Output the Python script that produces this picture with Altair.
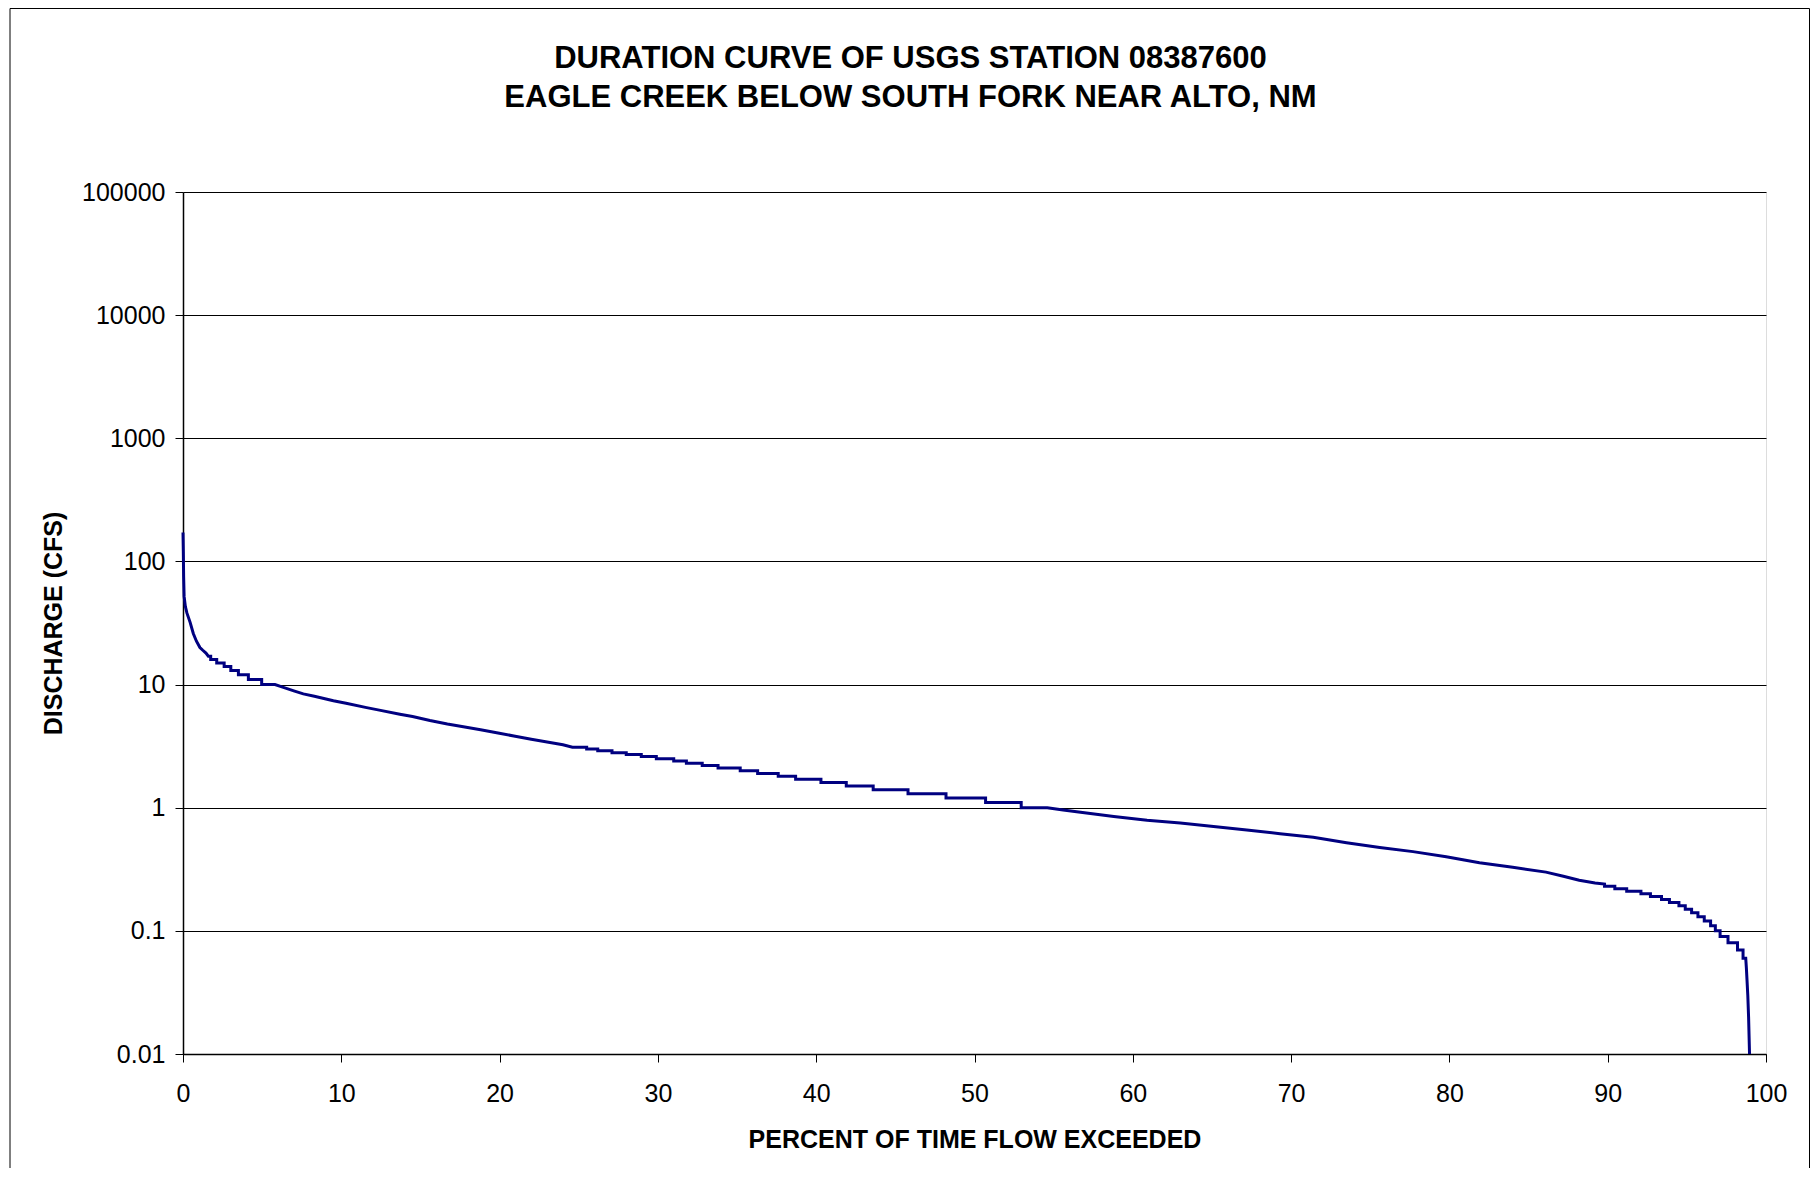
import altair as alt
import pandas as pd

# ---- values ----
# percent of time flow exceeded (x) and discharge in cfs (y), in drawing order
pct = [
    0.00, 0.02, 0.04, 0.07, 0.15, 0.25, 0.45, 0.65, 0.85, 1.07, 1.25, 1.45, 1.60, 1.75,
    1.75, 2.13, 2.13, 2.60, 2.60, 3.02, 3.02, 3.50, 3.50, 4.13, 4.13, 4.97, 4.97, 5.81,
    6.34, 7.00, 7.60, 8.30, 9.50, 10.3, 11.6, 12.4, 13.7, 14.5, 15.6, 16.7, 17.8, 18.8,
    19.9, 20.9, 22.0, 23.0, 24.0,
    24.6, 25.5, 25.5, 26.2, 26.2, 27.1, 27.1, 28.0, 28.0, 28.95, 28.95, 29.9, 29.9, 31.0,
    31.0, 31.8, 31.8, 32.8, 32.8, 33.8, 33.8, 35.2, 35.2, 36.3, 36.3, 37.6, 37.6, 38.7,
    38.7, 40.3, 40.3, 41.9, 41.9, 43.6, 43.6, 45.8, 45.8, 48.2, 48.2, 50.7, 50.7, 52.95,
    52.95, 54.6,
    55.6, 56.7, 58.8, 60.9, 63.0, 65.1, 67.2, 69.3, 71.4, 73.5, 75.6, 77.7, 79.8, 81.9,
    84.0, 86.1, 87.2, 88.2, 89.2, 89.8,
    89.8, 90.45, 90.45, 91.2, 91.2, 92.1, 92.1, 92.7, 92.7, 93.4, 93.4, 93.9, 93.9, 94.5,
    94.5, 94.9, 94.9, 95.3, 95.3, 95.7, 95.7, 96.1, 96.1, 96.5, 96.5, 96.8, 96.8, 97.1,
    97.1, 97.6, 97.6, 98.2, 98.2, 98.55, 98.55, 98.72,
    98.76, 98.80, 98.85, 98.90, 98.96,
]
cfs = [
    172, 120, 75, 52, 43, 38, 32, 26, 22.5, 20, 19, 18, 17, 17,
    16, 16, 15, 15, 14, 14, 13, 13, 12, 12, 11, 11, 10, 10,
    9.5, 8.9, 8.4, 8.05, 7.4, 7.05, 6.5, 6.2, 5.75, 5.5, 5.1, 4.78, 4.52, 4.3,
    4.05, 3.82, 3.6, 3.42, 3.25,
    3.1, 3.1, 3.0, 3.0, 2.9, 2.9, 2.8, 2.8, 2.7, 2.7, 2.6, 2.6, 2.5, 2.5,
    2.4, 2.4, 2.3, 2.3, 2.2, 2.2, 2.1, 2.1, 2.0, 2.0, 1.9, 1.9, 1.8, 1.8,
    1.7, 1.7, 1.6, 1.6, 1.5, 1.5, 1.4, 1.4, 1.3, 1.3, 1.2, 1.2, 1.1, 1.1,
    1.0, 1.0,
    0.96, 0.92, 0.85, 0.79, 0.75, 0.705, 0.66, 0.615, 0.575, 0.52, 0.475, 0.44, 0.40, 0.358,
    0.328, 0.30, 0.278, 0.258, 0.245, 0.24,
    0.23, 0.23, 0.22, 0.22, 0.21, 0.21, 0.20, 0.20, 0.19, 0.19, 0.18, 0.18, 0.17, 0.17,
    0.16, 0.16, 0.15, 0.15, 0.14, 0.14, 0.13, 0.13, 0.12, 0.12, 0.11, 0.11, 0.10, 0.10,
    0.09, 0.09, 0.08, 0.08, 0.07, 0.07, 0.06, 0.06,
    0.05, 0.04, 0.03, 0.02, 0.01,
]

x_ticks = [0, 10, 20, 30, 40, 50, 60, 70, 80, 90, 100]
y_ticks = [0.01, 0.1, 1, 10, 100, 1000, 10000, 100000]
title_lines = [
    "DURATION CURVE OF USGS STATION 08387600",
    "EAGLE CREEK BELOW SOUTH FORK NEAR ALTO, NM",
]
x_title = "PERCENT OF TIME FLOW EXCEEDED"
y_title = "DISCHARGE (CFS)"

FONT = "Liberation Sans, Arial, Helvetica, sans-serif"
W, H = 1583, 862

df = pd.DataFrame({"pct": pct, "cfs": cfs, "order": list(range(len(pct)))})

line = alt.Chart(df).mark_line(color="#000080", strokeWidth=3).encode(
    x=alt.X(
        "pct:Q",
        scale=alt.Scale(domain=[0, 100], nice=False, zero=False),
        axis=alt.Axis(
            values=x_ticks, title=x_title, grid=False,
            tickSize=8, tickColor="#000", tickWidth=1,
            domainColor="#000", domainWidth=1.5,
            labelFont=FONT, labelFontSize=25, labelColor="#000",
            labelPadding=19, labelFlush=False, labelOverlap=False,
            titleFont=FONT, titleFontSize=25, titleFontWeight="bold", titleColor="#000",
            titleX=W / 2, titleY=85, titleAlign="center", titleBaseline="middle",
        ),
    ),
    y=alt.Y(
        "cfs:Q",
        scale=alt.Scale(type="log", domain=[0.01, 100000], nice=False),
        axis=alt.Axis(
            values=y_ticks, format="~g", title=y_title, grid=True,
            gridColor="#000", gridWidth=1,
            tickSize=8, tickColor="#000", tickWidth=1,
            domainColor="#000", domainWidth=1.5,
            labelFont=FONT, labelFontSize=25, labelColor="#000",
            labelPadding=10, labelFlush=False, labelOverlap=False,
            titleFont=FONT, titleFontSize=25, titleFontWeight="bold", titleColor="#000",
            titleX=-130, titleY=H / 2, titleAngle=270,
            titleAlign="center", titleBaseline="middle",
        ),
    ),
    order="order:Q",
)

one = pd.DataFrame({"k": [0]})
left_border = alt.Chart(one).mark_rule(color="#000", strokeWidth=1).encode(
    x=alt.value(-173), y=alt.value(-183.5), y2=alt.value(976)
)
top_border = alt.Chart(one).mark_rule(color="#000", strokeWidth=1).encode(
    x=alt.value(-173), x2=alt.value(1626.5), y=alt.value(-183.5)
)
right_border = alt.Chart(one).mark_rule(color="#000", strokeWidth=1).encode(
    x=alt.value(1626.5), y=alt.value(-183.5), y2=alt.value(976)
)

title1 = alt.Chart(one).mark_text(
    font=FONT, fontSize=31, fontWeight="bold", color="#000",
    align="center", baseline="alphabetic",
).encode(x=alt.value(727.5), y=alt.value(-124.5), text=alt.value(title_lines[0]))
title2 = alt.Chart(one).mark_text(
    font=FONT, fontSize=31, fontWeight="bold", color="#000",
    align="center", baseline="alphabetic",
).encode(x=alt.value(727.5), y=alt.value(-85), text=alt.value(title_lines[1]))

chart = alt.layer(
    line, left_border, top_border, right_border, title1, title2
).properties(
    width=W,
    height=H,
    autosize=alt.AutoSizeParams(type="none"),
    padding={"left": 175, "top": 184, "right": 44, "bottom": 114},
).configure_view(stroke="#808080", strokeWidth=2.5).configure(background="white")

chart.save("out.html", embed_options={"renderer": "svg", "actions": False})
